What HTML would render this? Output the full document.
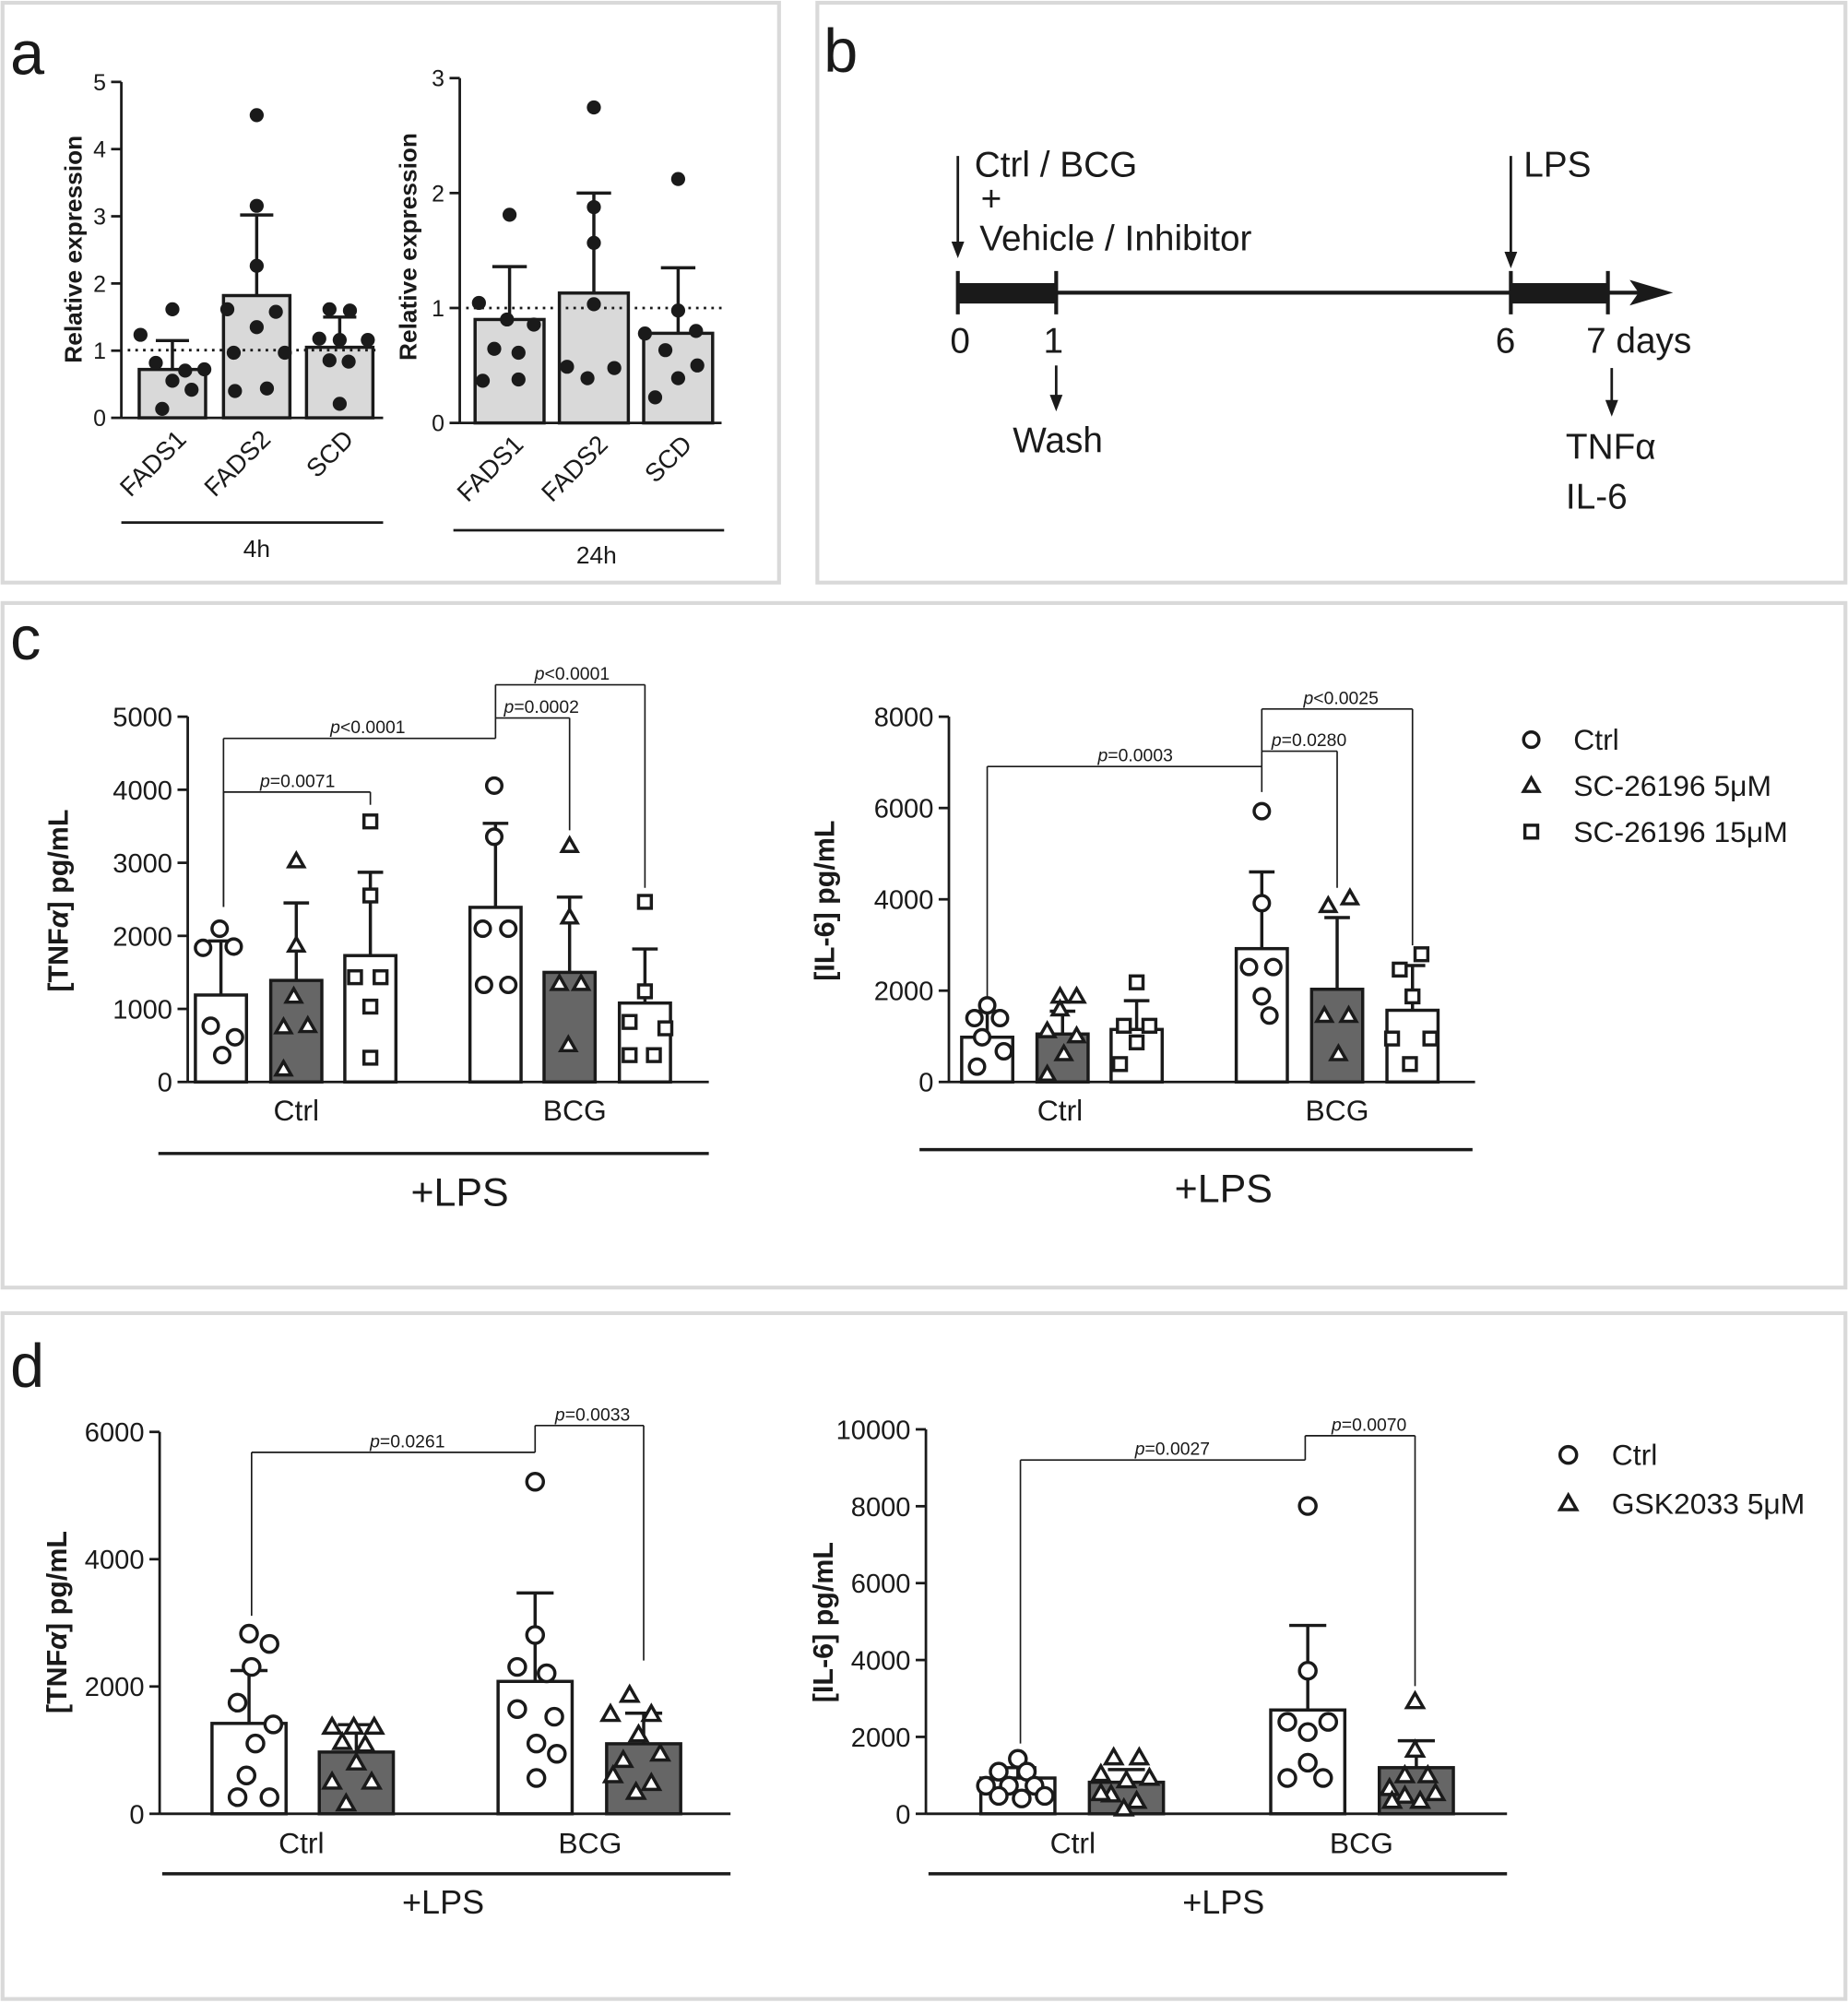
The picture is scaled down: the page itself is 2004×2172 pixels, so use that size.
<!DOCTYPE html>
<html><head><meta charset="utf-8"><style>
html,body{margin:0;padding:0;background:#fff}
svg{display:block}
text{font-family:"Liberation Sans",Arial,sans-serif;fill:#1a1a1a}
</style></head><body>
<svg id="s" width="2004" height="2172" viewBox="0 0 1447 1568" xmlns="http://www.w3.org/2000/svg">
<rect x="2" y="2" width="608" height="454" fill="none" stroke="#d9d9d9" stroke-width="3"/>
<rect x="640" y="2" width="805" height="454" fill="none" stroke="#d9d9d9" stroke-width="3"/>
<rect x="2" y="472" width="1443" height="536" fill="none" stroke="#d9d9d9" stroke-width="3"/>
<rect x="2" y="1028" width="1443" height="537" fill="none" stroke="#d9d9d9" stroke-width="3"/>
<text x="8" y="58" font-size="48">a</text>
<text x="645" y="56" font-size="48">b</text>
<text x="8" y="516" font-size="48">c</text>
<text x="8" y="1086" font-size="48">d</text>
<!-- panel b -->
<g stroke="#1a1a1a" fill="#1a1a1a">
<rect x="750" y="222" width="77" height="15"/>
<line x1="827" y1="229" x2="1183" y2="229" stroke-width="3"/>
<rect x="1183" y="222" width="76" height="15"/>
<line x1="1259" y1="229" x2="1290" y2="229" stroke-width="3"/>
<polygon points="1310,229 1276,219 1283,229 1276,239" stroke="none"/>
<line x1="750" y1="212" x2="750" y2="246" stroke-width="3"/>
<line x1="827" y1="212" x2="827" y2="246" stroke-width="3"/>
<line x1="1183" y1="212" x2="1183" y2="246" stroke-width="3"/>
<line x1="1259" y1="212" x2="1259" y2="246" stroke-width="3"/>
<line x1="750" y1="122" x2="750" y2="196" stroke-width="2"/><polygon points="750,202 745,189 755,189" stroke="none"/>
<line x1="1183" y1="122" x2="1183" y2="204" stroke-width="2"/><polygon points="1183,210 1178,197 1188,197" stroke="none"/>
<line x1="827" y1="286" x2="827" y2="316" stroke-width="2"/><polygon points="827,322 822,309 832,309" stroke="none"/>
<line x1="1262" y1="288" x2="1262" y2="320" stroke-width="2"/><polygon points="1262,326 1257,313 1267,313" stroke="none"/>
</g>
<g font-size="28">
<text x="763" y="138">Ctrl / BCG</text><text x="768" y="165">+</text><text x="767" y="196">Vehicle / Inhibitor</text>
<text x="1193" y="138">LPS</text>
<text x="744" y="276">0</text><text x="817" y="276">1</text><text x="1171" y="276">6</text><text x="1242" y="276">7 days</text>
<text x="793" y="354">Wash</text><text x="1226" y="359">TNFα</text><text x="1226" y="398">IL-6</text>
</g>
<g id="g"></g>
</svg>
<script>
var g=document.getElementById('g'),h='';
function L(x1,y1,x2,y2,w,d){h+='<line x1="'+x1+'" y1="'+y1+'" x2="'+x2+'" y2="'+y2+'" stroke="#1a1a1a" stroke-width="'+(w||2)+'"'+(d?' stroke-dasharray="'+d+'"':'')+'/>';}
function T(x,y,s,t,a,extra){h+='<text x="'+x+'" y="'+y+'" font-size="'+s+'" text-anchor="'+(a||'middle')+'" '+(extra||'')+'>'+t+'</text>';}
function axis(x,yt,yb,ticks,fs){L(x,yt,x,yb,2);var n=ticks.length-1;for(var i=0;i<=n;i++){var y=yb-(yb-yt)*i/n;L(x-8,y,x,y,2);T(x-12,y+fs*0.36,fs,ticks[i],'end');}}
function ylab(x,y,s,t,b){h+='<text x="'+x+'" y="'+y+'" font-size="'+s+'" text-anchor="middle" '+(b?'font-weight="bold" ':'')+'transform="rotate(-90 '+x+' '+y+')">'+t+'</text>';}
function bar(cx,w,base,top,err,fill){h+='<rect x="'+(cx-w/2)+'" y="'+top+'" width="'+w+'" height="'+(base-top)+'" fill="'+fill+'" stroke="#1a1a1a" stroke-width="2.5"/>';L(cx,top,cx,err,2.5);L(cx-w/4,err,cx+w/4,err,2.5);}
function V(x0,yb,yt,max){return function(v){return yb-(yb-yt)*v/max;};}
function pts(arr,type,r){arr.forEach(function(p){var x=p[0],y=p[1];
 if(type=='dot')h+='<circle cx="'+x+'" cy="'+y+'" r="'+r+'" fill="#1a1a1a"/>';
 else if(type=='c')h+='<circle cx="'+x+'" cy="'+y+'" r="'+r+'" fill="#fff" stroke="#1a1a1a" stroke-width="2.5"/>';
 else if(type=='t')h+='<polygon points="'+x+','+(y-r)+' '+(x-r)+','+(y+r*0.75)+' '+(x+r)+','+(y+r*0.75)+'" fill="#fff" stroke="#1a1a1a" stroke-width="2.5"/>';
 else h+='<rect x="'+(x-r+1)+'" y="'+(y-r+1)+'" width="'+(2*r-2)+'" height="'+(2*r-2)+'" fill="#fff" stroke="#1a1a1a" stroke-width="2.5"/>';});}
function br(x1,x2,yh,y1,y2,lab,lx,fs){L(x1,y1,x1,yh,1.2);L(x1,yh,x2,yh,1.2);L(x2,yh,x2,y2,1.2);T(lx,yh-4,fs||14,'<tspan font-style="italic">p</tspan>'+lab);}
// panel a left
axis(95,64,327,['0','1','2','3','4','5'],18);
L(95,327,300,327,2);
var a1=V(0,327,64,5),LG='#d9d9d9';
bar(135,52,327,a1(0.72),a1(1.15),LG);bar(201,52,327,a1(1.82),a1(3.02),LG);bar(266,52,327,a1(1.05),a1(1.5),LG);
L(100,274,298,274,2,'2,4');
pts([[135,242],[110,262],[122,284],[145,290],[160,289],[135,298],[150,305],[127,320]],'dot',5.5);
pts([[201,90],[201,161],[201,208],[178,242],[216,244],[201,256],[183,276],[223,276],[209,304],[184,306]],'dot',5.5);
pts([[258,242],[274,243],[250,265],[266,266],[288,266],[258,282],[273,283],[266,316]],'dot',5.5);
ylab(64,195,19,'Relative expression',1);
[['FADS1',135],['FADS2',201],['SCD',266]].forEach(function(o){h+='<text x="'+(o[1]+12)+'" y="345" font-size="20" text-anchor="end" transform="rotate(-45 '+(o[1]+12)+' 345)">'+o[0]+'</text>';});
L(95,409,300,409,2);T(201,436,19,'4h');
// panel a right
axis(360,61,331,['0','1','2','3'],18);
L(360,331,565,331,2);
var a2=V(0,331,61,3);
bar(399,54,331,a2(0.9),a2(1.36),LG);bar(465,54,331,a2(1.13),a2(2.0),LG);bar(531,54,331,a2(0.78),a2(1.35),LG);
L(365,241,565,241,2,'2,4');
pts([[399,168],[375,237],[397,250],[418,254],[387,273],[406,276],[378,298],[406,297]],'dot',5.5);
pts([[465,84],[465,162],[465,190],[465,238],[444,287],[481,288],[460,296]],'dot',5.5);
pts([[531,140],[531,243],[505,261],[545,259],[521,274],[546,286],[531,296],[513,311]],'dot',5.5);
ylab(326,193,19,'Relative expression',1);
[['FADS1',399],['FADS2',465],['SCD',531]].forEach(function(o){h+='<text x="'+(o[1]+12)+'" y="349" font-size="20" text-anchor="end" transform="rotate(-45 '+(o[1]+12)+' 349)">'+o[0]+'</text>';});
L(355,415,567,415,2);T(467,441,19,'24h');
// panel c left
var GR='#666';
axis(147,561,847,['0','1000','2000','3000','4000','5000'],21);
L(147,847,555,847,2);
var c1=V(0,847,561,5000);
bar(173,40,847,c1(1190),c1(1930),'#fff');bar(232,40,847,c1(1390),c1(2450),GR);bar(290,40,847,c1(1730),c1(2870),'#fff');
bar(388,40,847,c1(2390),c1(3540),'#fff');bar(446,40,847,c1(1500),c1(2530),GR);bar(505,40,847,c1(1080),c1(1820),'#fff');
pts([[172,727],[159,742],[183,741],[165,803],[184,812],[174,826]],'c',6);
pts([[232,674],[232,740],[230,780],[222,804],[241,803],[222,837]],'t',6);
pts([[290,643],[290,701],[278,765],[298,765],[290,788],[290,828]],'s',6);
pts([[387,615],[387,655],[378,727],[398,727],[379,771],[398,771]],'c',6);
pts([[446,662],[446,718],[438,770],[455,770],[445,818]],'t',6);
pts([[505,706],[505,776],[493,800],[521,805],[493,826],[512,826]],'s',6);
br(175,290,620,710,630,'=0.0071',233);
br(175,388,578,710,578,'&lt;0.0001',288);
br(388,446,562,578,650,'=0.0002',424);
br(388,505,536,562,695,'&lt;0.0001',448);
T(232,877,23,'Ctrl');T(450,877,23,'BCG');
L(124,903,555,903,2.5);T(360,944,31,'+LPS');
ylab(53,705,22,'[TNF<tspan font-style="italic">α</tspan>] pg/mL',1);
// panel c right
axis(743,561,847,['0','2000','4000','6000','8000'],21);
L(743,847,1155,847,2);
var c2=V(0,847,561,8000);
bar(773,40,847,c2(980),c2(1550),'#fff');bar(832,40,847,c2(1050),c2(1550),GR);bar(890,40,847,c2(1150),c2(1780),'#fff');
bar(988,40,847,c2(2920),c2(4600),'#fff');bar(1047,40,847,c2(2030),c2(3600),GR);bar(1106,40,847,c2(1570),c2(2550),'#fff');
pts([[773,787],[763,797],[783,797],[769,812],[786,823],[765,835]],'c',6);
pts([[830,780],[843,780],[830,790],[820,807],[843,811],[833,825],[820,841]],'t',6);
pts([[890,769],[880,803],[900,803],[890,816],[877,833]],'s',6);
pts([[988,635],[988,707],[978,757],[997,757],[988,780],[994,795]],'c',6);
pts([[1040,709],[1057,703],[1037,795],[1056,795],[1048,825]],'t',6);
pts([[1096,759],[1113,747],[1106,780],[1090,813],[1120,813],[1104,833]],'s',6);
br(773,988,600,780,620,'=0.0003',889);
br(988,1047,588,600,695,'=0.0280',1025);
br(988,1106,555,588,740,'&lt;0.0025',1050);
T(830,877,23,'Ctrl');T(1047,877,23,'BCG');
L(720,900,1153,900,2.5);T(958,941,31,'+LPS');
ylab(653,705,22,'[IL-6] pg/mL',1);
pts([[1199,579]],'c',6);pts([[1199,615]],'t',6);pts([[1199,651]],'s',6);
T(1232,587,23,'Ctrl','start');T(1232,623,23,'SC-26196 5μM','start');T(1232,659,23,'SC-26196 15μM','start');
// panel d left
axis(125,1121,1420,['0','2000','4000','6000'],21);
L(125,1420,572,1420,2);
var d1=V(0,1420,1121,6000);
bar(195,58,1420,d1(1420),d1(2250),'#fff');bar(279,58,1420,d1(970),d1(1400),GR);
bar(419,58,1420,d1(2080),d1(3470),'#fff');bar(504,58,1420,d1(1100),d1(1580),GR);
pts([[195,1279],[211,1287],[197,1305],[186,1333],[214,1350],[200,1365],[193,1390],[186,1407],[211,1407]],'c',6.5);
pts([[260,1352],[277,1352],[293,1352],[268,1364],[286,1366],[279,1380],[260,1395],[291,1395],[271,1412]],'t',6.5);
pts([[419,1160],[419,1280],[405,1305],[428,1310],[405,1338],[434,1344],[420,1365],[436,1373],[420,1392]],'c',6.5);
pts([[493,1327],[478,1342],[510,1342],[500,1358],[488,1378],[517,1373],[480,1390],[510,1396],[498,1403]],'t',6.5);
br(197,419,1137,1265,1137,'=0.0261',319);
br(419,504,1116,1137,1300,'=0.0033',464);
T(236,1451,23,'Ctrl');T(462,1451,23,'BCG');
L(127,1467,572,1467,2.5);T(347,1498,26,'+LPS');
ylab(52,1270,22,'[TNF<tspan font-style="italic">α</tspan>] pg/mL',1);
// panel d right
axis(725,1119,1420,['0','2000','4000','6000','8000','10000'],21);
L(725,1420,1180,1420,2);
var d2=V(0,1420,1119,10000);
bar(797,58,1420,d2(930),d2(1200),'#fff');bar(882,58,1420,d2(820),d2(1150),GR);
bar(1024,58,1420,d2(2700),d2(4900),'#fff');bar(1109,58,1420,d2(1200),d2(1900),GR);
pts([[797,1377],[782,1387],[804,1387],[772,1398],[790,1398],[810,1398],[782,1406],[800,1408],[818,1406]],'c',6.5);
pts([[872,1376],[892,1376],[862,1389],[882,1394],[900,1392],[870,1405],[890,1410],[880,1416],[862,1404]],'t',6.5);
pts([[1024,1179],[1024,1308],[1008,1348],[1040,1348],[1024,1356],[1024,1380],[1008,1392],[1036,1392]],'c',6.5);
pts([[1108,1332],[1108,1370],[1100,1390],[1118,1390],[1088,1400],[1124,1404],[1100,1406],[1112,1410],[1090,1410]],'t',6.5);
br(799,1022,1143,1365,1143,'=0.0027',918);
br(1022,1108,1124,1143,1320,'=0.0070',1072);
T(840,1451,23,'Ctrl');T(1066,1451,23,'BCG');
L(727,1467,1180,1467,2.5);T(958,1498,26,'+LPS');
ylab(652,1270,22,'[IL-6] pg/mL',1);
pts([[1228,1139]],'c',6.5);pts([[1228,1177]],'t',6.5);
T(1262,1147,23,'Ctrl','start');T(1262,1185,23,'GSK2033 5μM','start');
g.innerHTML=h;
</script>
</body></html>
